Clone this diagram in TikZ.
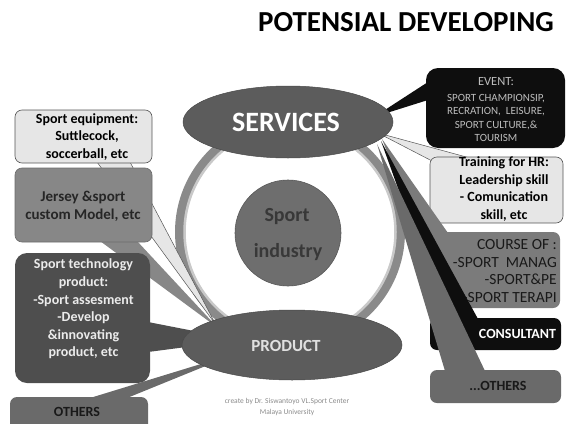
\documentclass[tikz,border=0pt]{standalone}
\usepackage{fontspec}
\setmainfont{Carlito}
\usetikzlibrary{calc,shapes.geometric}
\definecolor{ringc}{HTML}{8A8A8A}
\definecolor{ringl}{HTML}{C9C9C9}
\definecolor{ellc}{HTML}{5C5C5C}
\definecolor{corec}{HTML}{6E6E6E}
\definecolor{lightbox}{HTML}{E6E6E6}
\definecolor{midbox}{HTML}{878787}
\definecolor{darkbox}{HTML}{4E4E4E}
\definecolor{othbox}{HTML}{6A6A6A}
\definecolor{blackbox}{HTML}{0E0E0E}
\definecolor{coursebox}{HTML}{7B7B7B}
\definecolor{evtxt}{HTML}{BDBDBD}
\definecolor{credit}{HTML}{8A8A8A}
\definecolor{edge}{HTML}{555555}
\tikzset{
  callbox/.style={rectangle, rounded corners=7pt, inner sep=0pt, outer sep=0pt},
  txt/.style={inner sep=0pt, align=center},
  boxfont/.style={font=\bfseries\fontsize{14}{17.6}\selectfont},
}
\begin{document}
\begin{tikzpicture}[x=1pt,y=-1pt]
\useasboundingbox (0,0) rectangle (567,423);
\clip (0,0) rectangle (567,423);

% title
\node[txt, font=\bfseries\fontsize{29}{32}\selectfont] (title) at (406,22) {POTENSIAL DEVELOPING};

% ring and core
\node[circle, minimum size=220pt, inner sep=0pt, draw=ringc, line width=10pt] (ring) at (290,232) {};
\draw[ringl, line width=2.5pt] (ring.center) circle (105.5);
\node[circle, minimum size=106pt, inner sep=0pt, fill=corec, draw=corec!80!black, line width=0.6pt] (core) at (288,233) {};
\node[txt, font=\bfseries\fontsize{20}{24}\selectfont, text=black!78] (sport) at (287,217) {Sport};
\node[txt, font=\bfseries\fontsize{20}{24}\selectfont, text=black!78] (indus) at (288,252) {industry};

% left side callouts
\coordinate (tipEq) at (216,325);
\coordinate (tipJe) at (218,328);
\coordinate (tipTe) at (240,340);
\coordinate (tipOt) at (240,352);

\node[callbox, minimum width=137pt, minimum height=53pt] (eq) at (83.5,136.5) {};
\filldraw[fill=lightbox, draw=edge, line width=0.5pt] ($(eq.south west)+(82,-1)$) -- (tipEq) -- ($(eq.south west)+(115,-1)$);
\node[callbox, minimum width=137pt, minimum height=53pt, fill=lightbox, draw=edge, line width=0.6pt] at (eq) {};
\node[txt, boxfont] (eqt) at (87,137) {Sport equipment:\\Suttlecock,\\soccerball, etc};

\node[callbox, minimum width=137pt, minimum height=74pt] (je) at (83.5,205) {};
\fill[midbox] ($(je.south west)+(85,-1)$) -- (tipJe) -- ($(je.south west)+(122,-1)$) -- cycle;
\node[callbox, minimum width=137pt, minimum height=74pt, fill=midbox, draw=midbox!80!black, line width=0.6pt] at (je) {};
\node[txt, font=\bfseries\fontsize{15}{18}\selectfont, text=black!85] (jet) at (83,206) {Jersey \&sport\\custom Model, etc};

\node[callbox, minimum width=135pt, minimum height=130pt] (te) at (82.5,318) {};
\fill[darkbox] ($(te.east)+(-2,4)$) -- (tipTe) -- ($(te.east)+(-2,34)$) -- cycle;
\node[callbox, minimum width=135pt, minimum height=130pt, fill=darkbox, rounded corners=12pt] at (te) {};
\node[txt, boxfont, text=black!8] (tet) at (83.5,309) {Sport technology\\product:\\-Sport assesment\\-Develop\\\&innovating\\product, etc};

\node[callbox, minimum width=138pt, minimum height=40pt] (lo) at (79,417) {};
\fill[othbox] ($(lo.north west)+(80,1)$) -- (tipOt) -- ($(lo.north west)+(117,1)$) -- cycle;
\node[callbox, minimum width=138pt, minimum height=40pt, fill=othbox] at (lo) {};
\node[txt, boxfont, text=black!90] (lot) at (77,412) {OTHERS};

% product
\node[ellipse, minimum width=220pt, minimum height=70pt, inner sep=0pt, fill=ellc, draw=ellc!80!black, line width=0.5pt] (prod) at (292,345) {};
\node[txt, font=\bfseries\fontsize{17}{20}\selectfont, text=black!12] (prodt) at (286,346) {PRODUCT};

% right side callouts
\coordinate (tipEv) at (374,117);
\coordinate (tipTr) at (378,133);
\coordinate (tipCo) at (382,139);
\coordinate (tipCs) at (381,141);
\coordinate (tipRo) at (377,144);

\node[callbox, minimum width=139pt, minimum height=80pt] (ev) at (495.5,108) {};
\fill[blackbox] ($(ev.west)+(2,-26)$) -- (tipEv) -- ($(ev.west)+(2,-8)$) -- cycle;
\node[callbox, minimum width=139pt, minimum height=80pt, fill=blackbox, rounded corners=12pt] at (ev) {};
\node[txt, font=\fontsize{11}{13.5}\selectfont, text=evtxt] (evt) at (496,110) {{\fontsize{12.5}{14}\selectfont EVENT:}\\[2pt]SPORT CHAMPIONSIP,\\RECRATION,\ \ LEISURE,\\SPORT CULTURE,\&\\TOURISM};

\node[callbox, minimum width=133pt, minimum height=66pt] (tr) at (496.5,190) {};
\filldraw[fill=lightbox, draw=edge, line width=0.5pt] ($(tr.north west)+(4,5)$) -- (tipTr) -- ($(tr.north west)+(40,1)$);
\node[callbox, minimum width=133pt, minimum height=66pt, fill=lightbox, draw=edge, line width=0.6pt] at (tr) {};
\node[txt, boxfont, text=black] (trt) at (504,189) {Training for HR:\\Leadership skill\\- Comunication\\skill, etc};

\node[callbox, minimum width=120pt, minimum height=76pt] (co) at (500,270) {};
\fill[coursebox] ($(co.north west)+(8,1)$) -- (tipCo) -- ($(co.west)+(2,22)$) -- cycle;
\node[callbox, minimum width=120pt, minimum height=76pt, fill=coursebox] at (co) {};
\node[txt, anchor=east, align=right, font=\fontsize{15.5}{17.7}\selectfont, text=black!90] (cot) at (557,271) {COURSE OF :\\-SPORT\ \ MANAG\\-SPORT\&PE\\-SPORT TERAPI};

\node[callbox, minimum width=131pt, minimum height=32pt] (cs) at (495.5,334) {};
\fill[blackbox] ($(cs.north west)+(15,1)$) -- (tipCs) -- ($(cs.north west)+(48,1)$) -- cycle;
\node[callbox, minimum width=131pt, minimum height=32pt, fill=blackbox] at (cs) {};
\node[txt, boxfont, text=white] (cst) at (517.5,334) {CONSULTANT};

\node[callbox, minimum width=131pt, minimum height=33pt] (ro) at (495.5,386.5) {};
\fill[othbox] ($(ro.north west)+(15,1)$) -- (tipRo) -- ($(ro.north west)+(55,1)$) -- cycle;
\node[callbox, minimum width=131pt, minimum height=33pt, fill=othbox] at (ro) {};
\node[txt, boxfont, text=black!90] (rot) at (498,386) {...OTHERS};

% services
\node[ellipse, minimum width=210pt, minimum height=72pt, inner sep=0pt, fill=ellc, draw=ellc!80!black, line width=0.5pt] (serv) at (288,122) {};
\node[txt, font=\bfseries\fontsize{28}{32}\selectfont, text=white] (servt) at (286,122) {SERVICES};

% credits
\node[txt, font=\fontsize{7.5}{10.5}\selectfont, text=credit] (cred) at (287,407) {create by Dr. Siswantoyo VL.Sport Center\\Malaya University};
\end{tikzpicture}
\end{document}
